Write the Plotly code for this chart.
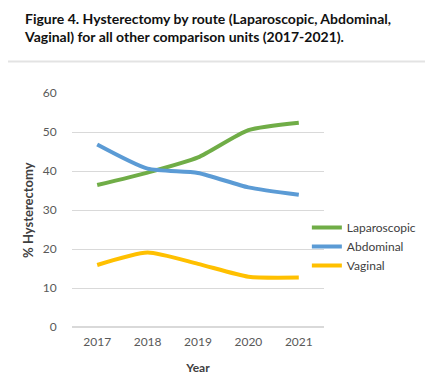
import plotly.graph_objects as go

years = ["2017", "2018", "2019", "2020", "2021"]
laparoscopic = [36.4, 39.6, 43.5, 50.5, 52.4]
abdominal = [46.8, 40.6, 39.5, 35.8, 33.9]
vaginal = [15.9, 19.1, 16.2, 12.9, 12.7]

series = [
    ("Laparoscopic", laparoscopic, "#70AD47"),
    ("Abdominal", abdominal, "#5B9BD5"),
    ("Vaginal", vaginal, "#FFC000"),
]

fig = go.Figure()
for name, vals, color in series:
    fig.add_trace(go.Scatter(
        x=years, y=vals, name=name, mode="lines",
        line=dict(color=color, width=4, shape="spline", smoothing=0.6),
    ))

fig.update_layout(
    width=425, height=374,
    margin=dict(l=64, r=109, t=85, b=55, autoexpand=False),
    paper_bgcolor="white", plot_bgcolor="white",
    font=dict(family="Lato", color="#595959", size=12),
    title=dict(
        text="<b>Figure 4. Hysterectomy by route (Laparoscopic, Abdominal,<br>Vaginal) for all other comparison units (2017-2021).</b>",
        x=0.04, xanchor="left", xref="container",
        y=0.958, yanchor="top", yref="container",
        font=dict(family="Lato", size=14, color="#111111"),
    ),
    xaxis=dict(
        type="category", range=[-0.5, 4.5], showgrid=False, showline=False,
        ticks="outside", ticklen=4, tickcolor="rgba(0,0,0,0)", automargin=False,
        tickfont=dict(size=12, color="#595959"),
        title=dict(text="<b>Year</b>", font=dict(size=12, color="#404040")),
    ),
    yaxis=dict(
        range=[0, 60], dtick=10, showgrid=True, gridcolor="#D9D9D9", gridwidth=1,
        zeroline=True, zerolinecolor="#D9D9D9", showline=False, automargin=False,
        ticks="outside", ticklen=12, tickcolor="rgba(0,0,0,0)",
        tickfont=dict(size=12, color="#595959"),
    ),
    annotations=[dict(
        text="<b>% Hysterectomy</b>", textangle=-90, xref="paper", yref="paper",
        x=-0.175, y=0.5, xanchor="center", yanchor="middle", showarrow=False,
        font=dict(size=13, color="#404040"),
    )],
    legend=dict(
        x=0.932, xanchor="left", y=0.487, yanchor="top",
        font=dict(size=12, color="#404040"), tracegroupgap=0,
        bgcolor="rgba(0,0,0,0)", itemwidth=30,
    ),
    shapes=[
        dict(type="line", xref="paper", yref="paper",
             x0=-0.254, x1=1.405, y0=1.135, y1=1.135,
             line=dict(color="#E3E3E3", width=2)),
    ],
)

fig.write_html("out.html")
